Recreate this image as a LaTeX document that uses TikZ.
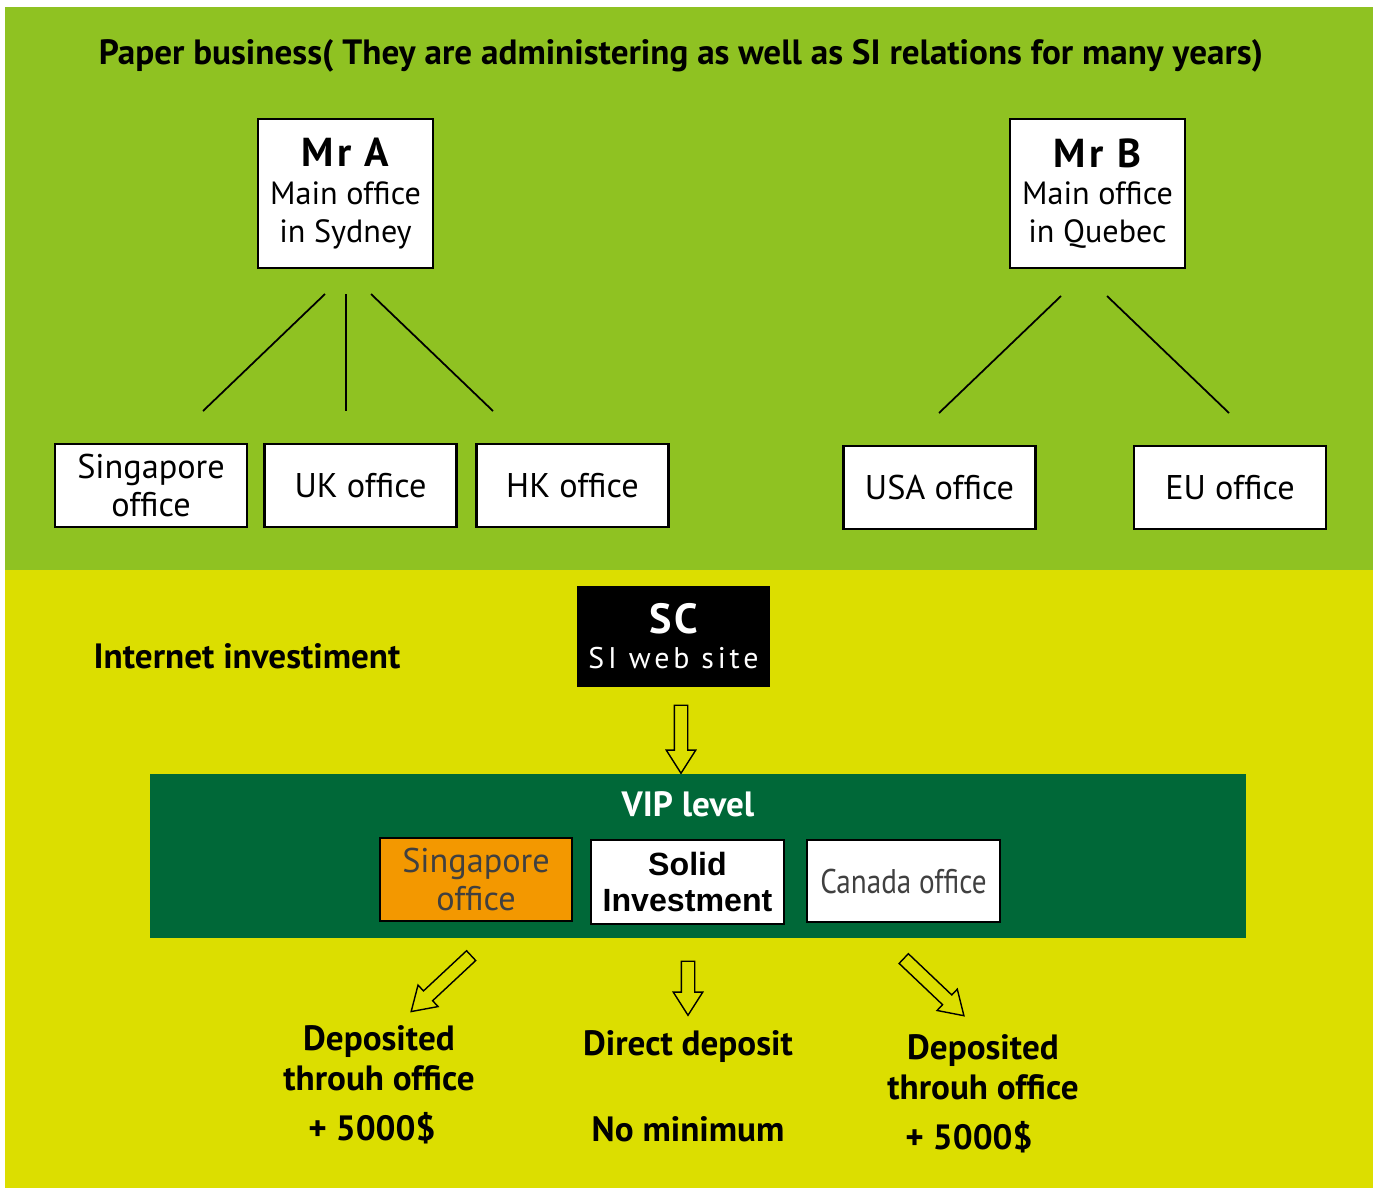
\documentclass[tikz,border=0pt]{standalone}
\usepackage{fontspec}
\setmainfont{PT Sans}
\newfontfamily\arialfont{Liberation Sans}
\usetikzlibrary{shapes.arrows}
\definecolor{paper}{RGB}{143,194,34}
\definecolor{web}{RGB}{220,222,0}
\definecolor{vip}{RGB}{0,104,56}
\definecolor{sgorange}{RGB}{243,152,0}

\begin{document}
\begin{tikzpicture}[x = 0.02cm, y = -0.02cm, line width = 1pt,
                    boss/.style = {draw, fill = white, line width = 1.2pt, minimum width = 3.5cm, minimum height = 2.98cm, align = center, inner sep = 0pt, font = \fontsize{18.3}{21.5}\selectfont},
                    office/.style = {draw, fill = white, line width = 1.2pt, minimum width = 3.84cm, minimum height = 1.66cm, align = center, inner sep = 0pt, font = \fontsize{19.5}{22}\selectfont},
                    hollow/.style = {single arrow, draw, fill = web, line width = 0.8pt, minimum height = #1, minimum width = 0.56cm, single arrow head extend = 0.16cm, single arrow tip angle = 65, inner xsep = 0pt, inner ysep = 0.12cm},
                    caption/.style = {align = center, font = \bfseries\fontsize{20}{22.7}\selectfont}]
  \useasboundingbox (0,0) rectangle (1379,1188);
  \fill[white] (0,0) rectangle (1379,1188);
  \fill[paper] (5,7) rectangle (1373,570);
  \fill[web] (5,570) rectangle (1373,1188);

  \node[caption] (title) at (681,56) {Paper business( They are administering as well as SI relations for many years)};
  \node [boss] (MA) at (345.5,193.5) {{\bfseries\fontsize{23}{24}\selectfont\addfontfeature{LetterSpace = 8}Mr A}\\Main office\\in Sydney};
  \node [boss] (MB) at (1097.5,193.5) {{\bfseries\fontsize{23}{24}\selectfont\addfontfeature{LetterSpace = 8}Mr B}\\Main office\\in Quebec};
  \node [office] (O11) at (151,485.5) {Singapore\\office};
  \node [office] (O12) at (360.5,485.5) {UK office};
  \node [office] (O13) at (572.5,485.5) {HK office};
  \node [office] (O21) at (939.5,487.5) {USA office};
  \node [office] (O22) at (1230,487.5) {EU office};

  \coordinate (A1) at (325,294);
  \coordinate (A2) at (346,294);
  \coordinate (A3) at (371,294);
  \coordinate (B1) at (1061,296);
  \coordinate (B2) at (1107,296);
  \coordinate (S1) at (203,411);
  \coordinate (S2) at (346,411);
  \coordinate (S3) at (493,411);
  \coordinate (S4) at (939,413);
  \coordinate (S5) at (1229,413);
  \draw (A1)--(S1);
  \draw (A2)--(S2);
  \draw (A3)--(S3);
  \draw (B1)--(S4);
  \draw (B2)--(S5);

  \node[caption] (net) at (247,656) {Internet investiment};
  \node[fill = black, text = white, minimum width = 3.86cm, minimum height = 2.02cm, align = center, inner sep = 0pt, font = \fontsize{17}{20}\selectfont] (SC) at (673.5,636.5) {{\bfseries\fontsize{24}{25}\selectfont\addfontfeature{LetterSpace = 6}SC}\\\addfontfeature{LetterSpace = 13}SI web site};
  \node[hollow = 1.36cm, rotate = -90] (W1) at (681,734) {};

  \node[fill = vip, minimum width = 21.92cm, minimum height = 3.28cm] (VIP) at (698,856) {};
  \node[caption, text = white] (viplabel) at (688,804) {VIP level};
  \node [office, fill = sgorange, text = black!75, minimum width = 3.84cm, minimum height = 1.66cm] (V1) at (476,879.5) {Singapore\\office};
  \node [office, minimum width = 3.86cm, minimum height = 1.68cm, font = \arialfont\bfseries\fontsize{18.3}{21}\selectfont] (V2) at (687.5,882) {Solid\\Investment};
  \node [office, text = black!75, minimum width = 3.86cm, minimum height = 1.64cm] (V3) at (903.5,881) {\scalebox{0.85}[1]{Canada office}};

  \node[hollow = 1.64cm, rotate = -137] (D1) at (445,980) {};
  \node[hollow = 1.08cm, rotate = -90] (D2) at (688,983) {};
  \node[hollow = 1.66cm, rotate = -43.5] (D3) at (930,983.5) {};

  \node[caption] (T1) at (379,1058) {Deposited\\throuh office};
  \node[caption] (T2) at (372,1128) {+ 5000\$};
  \node[caption] (T3) at (688,1047) {Direct deposit};
  \node[caption] (T4) at (688,1129) {No minimum};
  \node[caption] (T5) at (983,1067) {Deposited\\throuh office};
  \node[caption] (T6) at (969,1137) {+ 5000\$};
\end{tikzpicture}
\end{document}
